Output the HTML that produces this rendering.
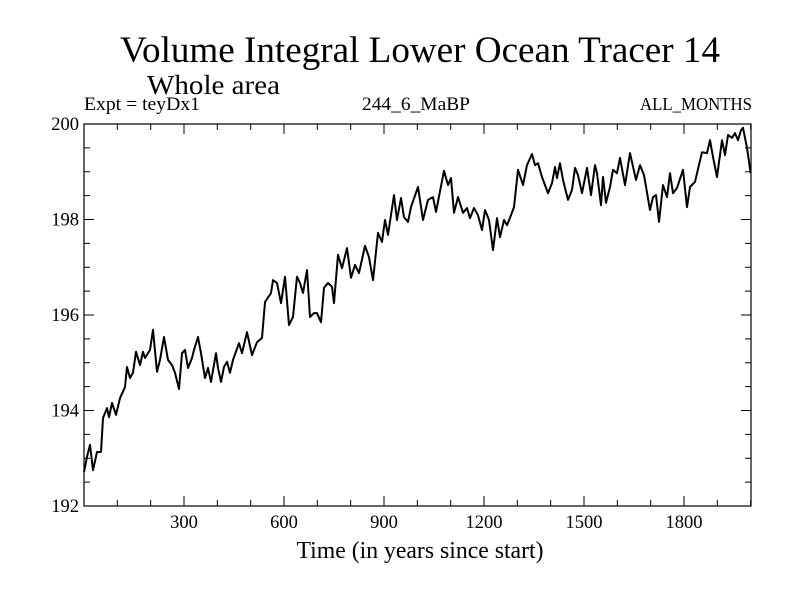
<!DOCTYPE html>
<html><head><meta charset="utf-8"><style>
body{margin:0;background:#fff}
svg{display:block;font-family:"Liberation Serif",serif}
</style></head><body>
<svg width="800" height="600" viewBox="0 0 800 600">
<rect width="800" height="600" fill="#fff"/>
<text x="420" y="62" text-anchor="middle" font-size="37" textLength="600" lengthAdjust="spacingAndGlyphs">Volume Integral Lower Ocean Tracer 14</text>
<text x="147" y="94" font-size="27" textLength="133" lengthAdjust="spacingAndGlyphs">Whole area</text>
<text x="84" y="110" font-size="19" textLength="116" lengthAdjust="spacingAndGlyphs">Expt = teyDx1</text>
<text x="416" y="110" text-anchor="middle" font-size="19" textLength="108" lengthAdjust="spacingAndGlyphs">244_6_MaBP</text>
<text x="752" y="110" text-anchor="end" font-size="18" textLength="112" lengthAdjust="spacingAndGlyphs">ALL_MONTHS</text>
<text x="420" y="558" text-anchor="middle" font-size="24" textLength="247" lengthAdjust="spacingAndGlyphs">Time (in years since start)</text>
<g id="axes"></g>
<path id="line" fill="none" stroke="#000" stroke-width="2" stroke-linejoin="round"/>
<rect x="84" y="124" width="667" height="382" fill="none" stroke="#000" stroke-width="1.2"/>
</svg>
<script>
const years=[0,9,18,27,39,51,57,69,75,84,96,108,123,129,138,147,156,168,177,183,198,207,219,228,240,252,264,273,285,294,303,312,324,330,342,351,363,372,381,396,402,411,420,429,438,447,465,474,489,504,519,534,543,561,567,579,591,603,615,627,639,648,657,669,678,690,699,711,720,732,744,750,762,774,789,801,813,825,843,855,867,882,894,903,912,930,939,951,960,972,981,1002,1017,1032,1047,1056,1080,1092,1101,1110,1122,1137,1149,1158,1170,1182,1194,1203,1215,1227,1239,1248,1260,1269,1281,1290,1302,1317,1329,1344,1353,1362,1374,1392,1404,1413,1419,1428,1437,1452,1464,1473,1482,1494,1509,1521,1533,1539,1551,1557,1566,1578,1587,1599,1608,1623,1638,1656,1668,1680,1698,1707,1716,1725,1737,1749,1758,1767,1779,1797,1809,1818,1833,1854,1869,1878,1887,1899,1914,1923,1932,1944,1953,1962,1971,1977,1989,2000];
const values=[192.71,193.03,193.28,192.75,193.13,193.13,193.84,194.05,193.86,194.16,193.91,194.26,194.49,194.91,194.68,194.79,195.23,194.95,195.23,195.10,195.27,195.69,194.81,195.06,195.54,195.06,194.95,194.79,194.45,195.20,195.27,194.89,195.10,195.27,195.54,195.20,194.68,194.89,194.60,195.20,194.89,194.60,194.91,195.02,194.79,195.06,195.41,195.20,195.64,195.16,195.43,195.52,196.27,196.46,196.73,196.67,196.25,196.80,195.79,195.96,196.80,196.67,196.46,196.94,195.96,196.04,196.04,195.85,196.57,196.67,196.59,196.25,197.26,196.98,197.40,196.78,197.05,196.88,197.45,197.21,196.73,197.72,197.53,197.99,197.68,198.51,197.99,198.45,198.05,197.95,198.26,198.68,197.99,198.41,198.47,198.16,199.02,198.72,198.87,198.14,198.47,198.14,198.24,198.03,198.24,198.09,197.78,198.20,197.99,197.36,198.03,197.63,197.99,197.88,198.09,198.26,199.04,198.72,199.14,199.37,199.14,199.18,198.89,198.55,198.76,199.10,198.87,199.18,198.83,198.41,198.62,199.08,198.93,198.55,199.08,198.51,199.14,198.97,198.30,198.89,198.35,198.68,199.04,198.97,199.29,198.72,199.39,198.83,199.14,198.93,198.20,198.47,198.51,197.95,198.72,198.47,198.97,198.55,198.66,199.04,198.26,198.68,198.79,199.41,199.39,199.66,199.31,198.89,199.66,199.35,199.77,199.71,199.81,199.66,199.87,199.92,199.50,198.97];
const xTickLabels=[300,600,900,1200,1500,1800];
const yTickLabels=[192,194,196,198,200];
const X0=84,X1=751,Y0=506,Y1=124,XMIN=0,XMAX=2001,YMIN=192,YMAX=200;
function xs(v){return X0+(v-XMIN)/(XMAX-XMIN)*(X1-X0);}
function ys(v){return Y0-(v-YMIN)/(YMAX-YMIN)*(Y0-Y1);}
const NS='http://www.w3.org/2000/svg';
const ax=document.getElementById('axes');
function ln(x1,y1,x2,y2,name){const l=document.createElementNS(NS,'line');
l.setAttribute('x1',x1);l.setAttribute('y1',y1);l.setAttribute('x2',x2);l.setAttribute('y2',y2);
l.setAttribute('stroke','#000');l.setAttribute('stroke-width','1');


ax.appendChild(l);}
function tx(x,y,s,anchor,name){const t=document.createElementNS(NS,'text');
t.setAttribute('x',x);t.setAttribute('y',y);t.setAttribute('font-size','18.5');t.setAttribute('text-anchor',anchor);t.textContent=s;


ax.appendChild(t);}
for(let yr=100;yr<2001;yr+=100){const x=xs(yr);const L=(yr%300===0)?10:6;
ln(x,Y0,x,Y0-L,'x-tick');ln(x,Y1,x,Y1+L,'x-tick-top');}
for(let v=192.5;v<200;v+=0.5){const y=ys(v);const L=(v%2===0)?10:6;
ln(X0,y,X0+L,y,'y-tick');ln(X1,y,X1-L,y,'y-tick-right');}
xTickLabels.forEach(v=>tx(xs(v),528,String(v),'middle','x-tick-label'));
yTickLabels.forEach(v=>tx(79,ys(v)+6,String(v),'end','y-tick-label'));
let d='';years.forEach((yr,i)=>{d+=(i?'L':'M')+xs(yr).toFixed(1)+','+ys(values[i]).toFixed(1);});
document.getElementById('line').setAttribute('d',d);
</script>
</body></html>
